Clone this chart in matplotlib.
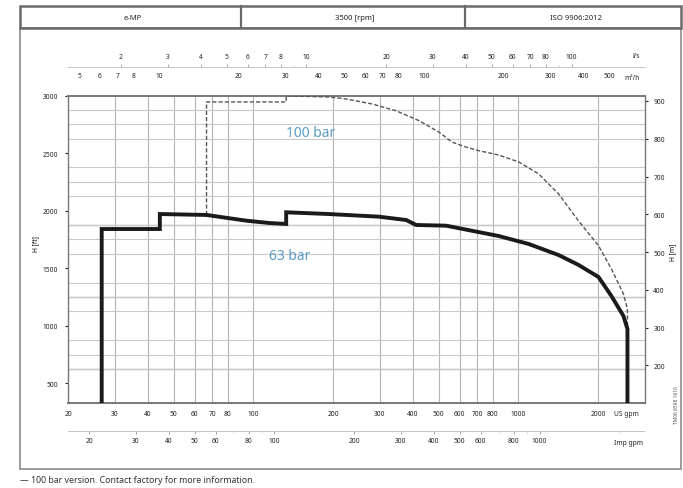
import matplotlib
matplotlib.use('Agg')
import matplotlib.pyplot as plt
from matplotlib.lines import Line2D
from matplotlib.patches import Rectangle
from matplotlib.ticker import NullLocator, NullFormatter

plt.rcParams['font.family'] = ['Noto Sans', 'DejaVu Sans']

# 63 bar curve: flow [US gpm], head [ft]
q63 = [26.8, 26.8, 44.4, 44.4, 66.6, 94.3, 115, 133, 133, 193, 298, 377, 411,
       533, 667, 843, 1093, 1417, 1685, 2004, 2242, 2488, 2576, 2576]
h63 = [300, 1841, 1841, 1971, 1963, 1913, 1893, 1885, 1986, 1971, 1948, 1919, 1876,
       1870, 1826, 1780, 1711, 1615, 1529, 1424, 1259, 1086, 973, 300]

# 100 bar curve (dashed)
q100 = [66.6, 66.6, 133, 133, 193, 224, 281, 345, 422, 501, 561, 633, 709,
        843, 1002, 1192, 1417, 1685, 2004, 2242, 2488, 2576, 2576]
h100 = [1963, 2944, 2944, 2997, 2987, 2970, 2926, 2868, 2781, 2683, 2596, 2553, 2521,
        2483, 2423, 2319, 2145, 1911, 1696, 1494, 1277, 1147, 973]

us_gpm_ticks = [20, 30, 40, 50, 60, 70, 80, 100, 200, 300, 400, 500, 600, 700, 800, 1000, 2000]
imp_gpm_ticks = [20, 30, 40, 50, 60, 80, 100, 200, 300, 400, 500, 600, 800, 1000]
ls_ticks = [2, 3, 4, 5, 6, 7, 8, 10, 20, 30, 40, 50, 60, 70, 80, 100]
m3h_ticks = [5, 6, 7, 8, 10, 20, 30, 40, 50, 60, 70, 80, 100, 200, 300, 400, 500]
ft_ticks = [500, 1000, 1500, 2000, 2500, 3000]
m_ticks = [200, 300, 400, 500, 600, 700, 800, 900]
ft_grid = list(range(500, 3001, 125))
ft_dark = [625, 1250, 1875]

header = ['e-MP', '3500 [rpm]', 'ISO 9906:2012']
note = '\u2014 100 bar version. Contact factory for more information.'

GPM_LS = 15.85
GPM_M3H = 4.403
US_IMP = 1.201
FT_M = 3.281

W, H = 683, 489
def fx(px):
    return px / W
def fy(py):
    return 1 - py / H

fig = plt.figure(figsize=(6.83, 4.89), dpi=100)
ax = fig.add_axes([fx(68), fy(404.3), fx(645) - fx(68), fy(96.5) - fy(404.3)])

ax.set_xscale('log')
ax.set_xlim(20, 3000)
ax.set_ylim(328, 3000)

# grid
ax.set_yticks(ft_grid, minor=True)
ax.grid(axis='y', which='minor', color='#c9c9c9', lw=0.8)
for v in ft_dark:
    ax.axhline(v, color='#8c8c8c', lw=0.9, zorder=1)
for v in us_gpm_ticks[1:]:
    ax.axvline(v, color='#b5b5b5', lw=0.8, zorder=1)

ax.plot(q100, h100, color='#555555', lw=1.0, ls=(0, (3, 1.5)), zorder=3)
ax.plot(q63, h63, color='#1a1a1a', lw=2.8, solid_joinstyle='miter', zorder=4)

ax.text(165, 2683, '100 bar', color='#5b9cc6', fontsize=10, ha='center', va='center')
ax.text(137, 1615, '63 bar', color='#5b9cc6', fontsize=10, ha='center', va='center')

# main axes ticks
ax.set_xticks(us_gpm_ticks, [str(v) for v in us_gpm_ticks])
ax.xaxis.set_minor_locator(NullLocator())
ax.set_yticks(ft_ticks, [str(v) for v in ft_ticks])
ax.tick_params(axis='x', which='major', length=0, pad=5, labelsize=4.8, colors='#222222')
ax.tick_params(axis='y', which='major', length=2, pad=5, labelsize=4.8, colors='#222222')
ax.tick_params(axis='y', which='minor', length=0)
for s in ax.spines.values():
    s.set_color('#777777')
    s.set_linewidth(1.0)
ax.spines['bottom'].set_linewidth(1.4)
ax.spines['top'].set_linewidth(1.4)

# right axis in m
axr = ax.secondary_yaxis('right', functions=(lambda f: f / FT_M, lambda m: m * FT_M))
axr.set_yticks(m_ticks, [str(v) for v in m_ticks])
axr.tick_params(length=2, pad=4, labelsize=4.8, colors='#222222')
axr.spines['right'].set_visible(False)

fig.text(fx(36), fy(244), 'H [ft]', rotation=90, fontsize=4.8, ha='center', va='center')
fig.text(fx(673), fy(252), 'H [m]', rotation=90, fontsize=4.8, ha='center', va='center')

def flow_axis(loc, factor, ticks, unit, unit_px, unit_py):
    sec = ax.secondary_xaxis(loc, functions=(lambda q: q / factor, lambda v: v * factor))
    sec.set_xticks(ticks, [str(v) for v in ticks])
    sec.xaxis.set_minor_formatter(NullFormatter())
    sec.tick_params(which='major', length=2.5, width=0.6, pad=2, labelsize=4.8,
                    color='#999999', labelcolor='#222222')
    sec.tick_params(which='minor', length=1.5, width=0.4, color='#bbbbbb')
    for s in sec.spines.values():
        s.set_color('#c4c4c4')
        s.set_linestyle((0, (1, 1)))
        s.set_linewidth(0.7)
    fig.text(fx(unit_px), fy(unit_py), unit, fontsize=4.8, ha='center', va='center',
             color='#222222')
    return sec

flow_axis(1.094, GPM_LS, ls_ticks, 'l/s', 636, 57)
top2 = flow_axis('top', GPM_M3H, m3h_ticks, 'm\u00b3/h', 632, 79)
top2.tick_params(which='major', length=0, pad=12)
top2.tick_params(which='minor', length=0)
for s in top2.spines.values():
    s.set_visible(False)
flow_axis(-0.09, US_IMP, imp_gpm_ticks, 'Imp gpm', 628, 444)
fig.text(fx(626), fy(415), 'US gpm', fontsize=4.8, ha='center', va='center', color='#222222')

# frames and header
fig.add_artist(Rectangle((fx(20), fy(470)), fx(681) - fx(20), fy(29) - fy(470),
                         transform=fig.transFigure, fill=False, ec='#8a8a8a', lw=1.2))
fig.add_artist(Rectangle((fx(20), fy(29)), fx(681) - fx(20), fy(7) - fy(29),
                         transform=fig.transFigure, fill=False, ec='#6a6a6a', lw=1.8))
for xd in [241, 465]:
    fig.add_artist(Line2D([fx(xd), fx(xd)], [fy(7), fy(29)], transform=fig.transFigure,
                          color='#6a6a6a', lw=1.6))
for txt, xc in zip(header, [133, 355, 576]):
    fig.text(fx(xc), fy(18), txt, fontsize=5.5, ha='center', va='center', color='#222222')

fig.text(fx(676), fy(405), 'TM06 8598 1816', rotation=90, fontsize=3.5,
         ha='center', va='center', color='#555555')
fig.text(fx(20), fy(481), note, fontsize=6.3, ha='left', va='center', color='#333333')

fig.savefig('out.png', dpi=100)
